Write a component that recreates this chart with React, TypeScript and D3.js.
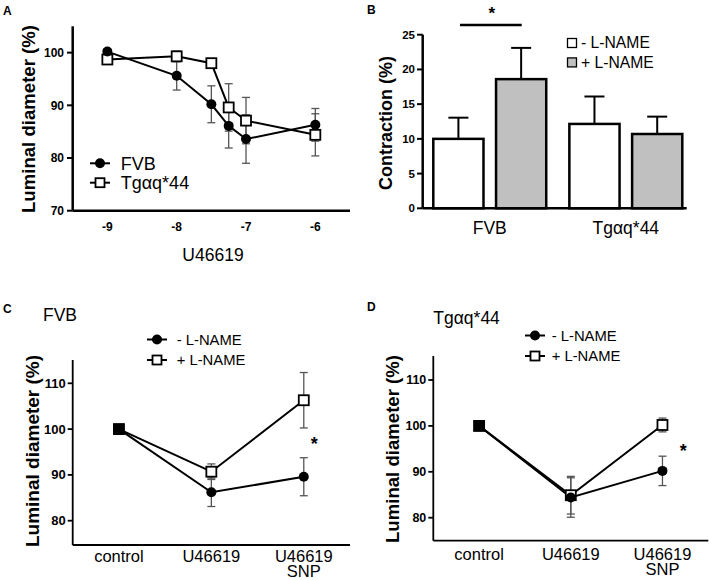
import React from "react";
import * as d3 from "d3";

// ---------- Panel A data ----------
const doseA = [-9, -8, -7.5, -7.25, -7, -6];
const fvbA = [100.2, 95.6, 90.2, 86.1, 83.6, 86.3];
const fvbAErr = [0.5, 2.7, 3.5, 4.2, 4.6, 3.1];
const tgA = [98.7, 99.3, 98.0, 89.6, 87.1, 84.4];
const tgAErr = [0.8, 1.0, 0.5, 4.5, 4.4, 4.0];
const ticksAx = [-9, -8, -7, -6];
const ticksAy = [70, 80, 90, 100];

// ---------- Panel B data ----------
const groupsB = ["FVB", "Tgαq*44"];
const seriesB = ["- L-NAME", "+ L-NAME"];
const minusB = [10.0, 12.15];
const minusBErr = [3.05, 3.95];
const plusB = [18.6, 10.7];
const plusBErr = [4.5, 2.5];
const ticksBy = [0, 5, 10, 15, 20, 25];

// ---------- Panels C / D data ----------
const conds = ["control", "U46619", "U46619|SNP"];
const cMinus = [100, 86.2, 89.6];
const cMinusErr = [0, 3.1, 4.15];
const cPlus = [100, 90.7, 106.3];
const cPlusErr = [0, 1.7, 6.05];
const dMinus = [100, 84.4, 90.2];
const dMinusErr = [0, 4.3, 3.2];
const dPlus = [100, 84.9, 100.2];
const dPlusErr = [0, 4.1, 1.5];
const ticksCDy = [80, 90, 100, 110];

const FONT = "Liberation Sans, Arial, Helvetica, sans-serif";
const ERR = "#555";

function Circle({ x, y, r = 5 }: any) {
  return <circle cx={x} cy={y} r={r} fill="#000" />;
}
function Square({ x, y, s = 10 }: any) {
  return <rect x={x - s / 2} y={y - s / 2} width={s} height={s} fill="#fff" stroke="#000" strokeWidth={1.8} />;
}
function ErrBar({ x, y1, y2, cap = 8, color = ERR, w = 1.3 }: any) {
  return (
    <g stroke={color} strokeWidth={w}>
      <line x1={x} x2={x} y1={y1} y2={y2} />
      <line x1={x - cap / 2} x2={x + cap / 2} y1={y1} y2={y1} />
      <line x1={x - cap / 2} x2={x + cap / 2} y1={y2} y2={y2} />
    </g>
  );
}

function PanelA() {
  const x = d3.scaleLinear().domain([-9.5, -5.5]).range([72.7, 350]);
  const y = d3.scaleLinear().domain([70, 105]).range([210.7, 26.3]);
  const line = d3.line<number>().x((_, i) => x(doseA[i])).y((v) => y(v));
  return (
    <g fontFamily={FONT}>
      <text x={3} y={15} fontWeight="bold" fontSize={12}>A</text>
      {doseA.map((d, i) => (
        <ErrBar key={"fe" + i} x={x(d)} y1={y(fvbA[i] + fvbAErr[i])} y2={y(fvbA[i] - fvbAErr[i])} />
      ))}
      {doseA.map((d, i) => (
        <ErrBar key={"te" + i} x={x(d)} y1={y(tgA[i] + tgAErr[i])} y2={y(tgA[i] - tgAErr[i])} />
      ))}
      <path d={line(fvbA) || ""} fill="none" stroke="#000" strokeWidth={2} />
      <path d={line(tgA) || ""} fill="none" stroke="#000" strokeWidth={2} />
      {doseA.map((d, i) => <Square key={"ts" + i} x={x(d)} y={y(tgA[i])} />)}
      {doseA.map((d, i) => <Circle key={"fc" + i} x={x(d)} y={y(fvbA[i])} />)}
      <line x1={72.7} x2={72.7} y1={y(105)} y2={y(70)} stroke="#000" strokeWidth={2.5} />
      <line x1={72.7} x2={350} y1={y(70)} y2={y(70)} stroke="#000" strokeWidth={2.5} />
      {ticksAy.map((t) => (
        <g key={t}>
          <line x1={67} x2={72.7} y1={y(t)} y2={y(t)} stroke="#000" strokeWidth={2} />
          <text x={64} y={y(t)} dy="0.35em" textAnchor="end" fontWeight="bold" fontSize={12}>{t}</text>
        </g>
      ))}
      {ticksAx.map((t) => (
        <text key={t} x={x(t)} y={231} textAnchor="middle" fontWeight="bold" fontSize={12}>{t}</text>
      ))}
      <text x={213} y={261} textAnchor="middle" fontSize={17.5}>U46619</text>
      <text transform={`translate(35,119) rotate(-90)`} textAnchor="middle" fontWeight="bold" fontSize={18.6}>Luminal diameter (%)</text>
      {/* legend */}
      <line x1={90} x2={110} y1={163.3} y2={163.3} stroke="#000" strokeWidth={2} />
      <Circle x={100} y={163.3} />
      <text x={120.7} y={163.3} dy="0.35em" fontSize={18}>FVB</text>
      <line x1={90} x2={110} y1={182.7} y2={182.7} stroke="#000" strokeWidth={2} />
      <Square x={100} y={182.7} s={9} />
      <text x={120.7} y={182.7} dy="0.35em" fontSize={18}>Tgαq*44</text>
    </g>
  );
}

function PanelB() {
  const x0 = d3.scaleBand().domain(groupsB).range([433.3, 682.3]).paddingInner(0.17).paddingOuter(0);
  const x1 = d3.scaleBand().domain(seriesB).range([0, x0.bandwidth()]).paddingInner(0.2);
  const y = d3.scaleLinear().domain([0, 25]).range([208.3, 34.7]);
  const vals = [minusB, plusB];
  const errs = [minusBErr, plusBErr];
  const fills = ["#fff", "#c0c0c0"];
  return (
    <g fontFamily={FONT}>
      <text x={367} y={14} fontWeight="bold" fontSize={12}>B</text>
      {groupsB.map((g, gi) =>
        seriesB.map((s, si) => {
          const bx = (x0(g) || 0) + (x1(s) || 0);
          const bw = x1.bandwidth();
          const v = vals[si][gi];
          const e = errs[si][gi];
          const cx = bx + bw / 2;
          return (
            <g key={g + s}>
              <line x1={cx} x2={cx} y1={y(v)} y2={y(v + e)} stroke="#000" strokeWidth={2} />
              <line x1={cx - 10} x2={cx + 10} y1={y(v + e)} y2={y(v + e)} stroke="#000" strokeWidth={2} />
              <rect x={bx} y={y(v)} width={bw} height={y(0) - y(v)} fill={fills[si]} stroke="#000" strokeWidth={2.5} />
            </g>
          );
        })
      )}
      <line x1={422.7} x2={422.7} y1={y(25)} y2={y(0)} stroke="#000" strokeWidth={2.5} />
      <line x1={422.7} x2={686.7} y1={y(0)} y2={y(0)} stroke="#000" strokeWidth={2.5} />
      {ticksBy.map((t) => (
        <g key={t}>
          <line x1={417} x2={422.7} y1={y(t)} y2={y(t)} stroke="#000" strokeWidth={2} />
          <text x={415} y={y(t)} dy="0.35em" textAnchor="end" fontWeight="bold" fontSize={11.5}>{t}</text>
        </g>
      ))}
      {groupsB.map((g) => (
        <text key={g} x={(x0(g) || 0) + x0.bandwidth() / 2} y={234} textAnchor="middle" fontSize={17.5}>{g}</text>
      ))}
      <text transform={`translate(392,123) rotate(-90)`} textAnchor="middle" fontWeight="bold" fontSize={18}>Contraction (%)</text>
      {/* significance */}
      <line x1={460} x2={521.7} y1={25} y2={25} stroke="#000" strokeWidth={2.5} />
      <text x={491.7} y={19} textAnchor="middle" fontWeight="bold" fontSize={17}>*</text>
      {/* legend */}
      {seriesB.map((s, i) => (
        <g key={s}>
          <rect x={567.5} y={38.5 + i * 19.4} width={9} height={9} fill={fills[i]} stroke="#000" strokeWidth={1.3} />
          <text x={581} y={43 + i * 19.4} dy="0.35em" fontSize={15.7}>{s}</text>
        </g>
      ))}
    </g>
  );
}

function PanelCD({ axisX, axisRight, yTop, yBottom, y110, y80, label, labelX, labelY, title, titleX, titleY, minus, minusErr, plus, plusErr, starX, starY, legX, legTextX, yLabelX, yLabelY, yLabelSize, tickSize, catY }: any) {
  const x = d3.scalePoint().domain(conds).range([axisX, axisRight]).padding(0.5);
  const y = d3.scaleLinear().domain([80, 110]).range([y80, y110]);
  const line = d3.line<number>().x((_, i) => x(conds[i]) || 0).y((v) => y(v));
  return (
    <g fontFamily={FONT}>
      <text x={labelX} y={labelY} fontWeight="bold" fontSize={12}>{label}</text>
      <text x={titleX} y={titleY} fontSize={17.5}>{title}</text>
      {conds.map((c, i) =>
        i > 0 ? (
          <g key={"e" + i}>
            <ErrBar x={x(c)} y1={y(minus[i] + minusErr[i])} y2={y(minus[i] - minusErr[i])} />
            <ErrBar x={x(c)} y1={y(plus[i] + plusErr[i])} y2={y(plus[i] - plusErr[i])} />
          </g>
        ) : null
      )}
      <path d={line(minus) || ""} fill="none" stroke="#000" strokeWidth={2} />
      <path d={line(plus) || ""} fill="none" stroke="#000" strokeWidth={2} />
      {conds.map((c, i) => <Square key={"s" + i} x={x(c)} y={y(plus[i])} />)}
      {conds.map((c, i) =>
        i === 0 ? (
          <rect key={"c" + i} x={(x(c) || 0) - 5.5} y={y(minus[i]) - 5.5} width={11} height={11} fill="#000" />
        ) : (
          <Circle key={"c" + i} x={x(c)} y={y(minus[i])} />
        )
      )}
      <line x1={axisX} x2={axisX} y1={yTop} y2={yBottom} stroke="#000" strokeWidth={1.8} />
      <line x1={axisX} x2={axisRight} y1={yBottom} y2={yBottom} stroke="#000" strokeWidth={1.8} />
      {ticksCDy.map((t) => (
        <g key={t}>
          <line x1={axisX - 5} x2={axisX} y1={y(t)} y2={y(t)} stroke="#000" strokeWidth={1.8} />
          <text x={axisX - 7} y={y(t)} dy="0.35em" textAnchor="end" fontWeight="bold" fontSize={tickSize}>{t}</text>
        </g>
      ))}
      {conds.map((c) => {
        const parts = c.split("|");
        return parts.map((p, j) => (
          <text key={c + j} x={x(c)} y={catY + j * 15} textAnchor="middle" fontSize={16.5}>{p}</text>
        ));
      })}
      <text x={starX} y={starY + 10} textAnchor="middle" fontWeight="bold" fontSize={18}>*</text>
      <text transform={`translate(${yLabelX},${yLabelY}) rotate(-90)`} textAnchor="middle" fontWeight="bold" fontSize={yLabelSize}>Luminal diameter (%)</text>
      {/* legend */}
      <line x1={legX} x2={legX + 20} y1={yTop - 20.5} y2={yTop - 20.5} stroke="#000" strokeWidth={2} />
      <Circle x={legX + 10} y={yTop - 20.5} />
      <text x={legTextX} y={yTop - 20.5} dy="0.35em" fontSize={14.8}>- L-NAME</text>
      <line x1={legX} x2={legX + 20} y1={yTop} y2={yTop} stroke="#000" strokeWidth={2} />
      <Square x={legX + 10} y={yTop} s={9} />
      <text x={legTextX} y={yTop} dy="0.35em" fontSize={14.8}>+ L-NAME</text>
    </g>
  );
}

export default function App() {
  return (
    <svg width={709} height={580} style={{ position: "absolute", left: 0, top: 0, background: "#fff" }}>
      <rect width={709} height={580} fill="#fff" />
      <PanelA />
      <PanelB />
      <PanelCD
        axisX={72.7} axisRight={350} yTop={360} yBottom={545} y110={383.3} y80={520.7}
        label="C" labelX={3} labelY={313} title="FVB" titleX={43} titleY={321}
        minus={cMinus} minusErr={cMinusErr} plus={cPlus} plusErr={cPlusErr}
        starX={314.3} starY={440} legX={147} legTextX={176.7}
        yLabelX={38.5} yLabelY={451} yLabelSize={19} tickSize={13} catY={561.5}
      />
      <PanelCD
        axisX={433.3} axisRight={708.3} yTop={356} yBottom={540.7} y110={380} y80={517.7}
        label="D" labelX={367} labelY={311} title="Tgαq*44" titleX={433.3} titleY={324}
        minus={dMinus} minusErr={dMinusErr} plus={dPlus} plusErr={dPlusErr}
        starX={683.3} starY={446.7} legX={525} legTextX={551.7}
        yLabelX={398.5} yLabelY={449} yLabelSize={18.6} tickSize={12.5} catY={560}
      />
    </svg>
  );
}
